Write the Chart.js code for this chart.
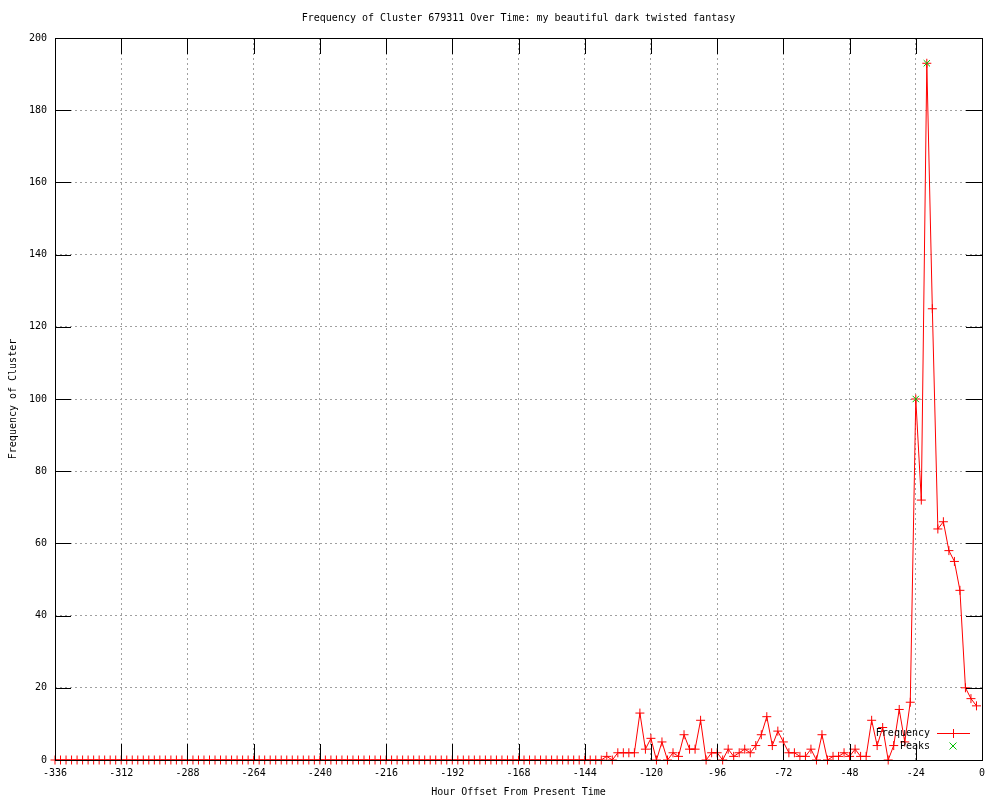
<!DOCTYPE html>
<html><head><meta charset="utf-8">
<script src="https://cdn.jsdelivr.net/npm/chart.js@4/dist/chart.umd.min.js"></script>
<style>html,body{margin:0;padding:0;background:#fff}#wrap{width:1000px;height:800px;position:relative}</style>
</head><body><div id="wrap"><canvas id="c"></canvas></div>
<script>
const hours = [
-336,-334,-332,-330,-328,-326,-324,-322,-320,-318,-316,-314,-312,-310,-308,-306,-304,-302,-300,-298,
-296,-294,-292,-290,-288,-286,-284,-282,-280,-278,-276,-274,-272,-270,-268,-266,-264,-262,-260,-258,
-256,-254,-252,-250,-248,-246,-244,-242,-240,-238,-236,-234,-232,-230,-228,-226,-224,-222,-220,-218,
-216,-214,-212,-210,-208,-206,-204,-202,-200,-198,-196,-194,-192,-190,-188,-186,-184,-182,-180,-178,
-176,-174,-172,-170,-168,-166,-164,-162,-160,-158,-156,-154,-152,-150,-148,-146,-144,-142,-140,-138,
-136,-134,-132,-130,-128,-126,-124,-122,-120,-118,-116,-114,-112,-110,-108,-106,-104,-102,-100,-98,
-96,-94,-92,-90,-88,-86,-84,-82,-80,-78,-76,-74,-72,-70,-68,-66,-64,-62,-60,-58,
-56,-54,-52,-50,-48,-46,-44,-42,-40,-38,-36,-34,-32,-30,-28,-26,-24,-22,-20,-18,
-16,-14,-12,-10,-8,-6,-4,-2
];
const frequency = [
0,0,0,0,0,0,0,0,0,0,0,0,0,0,0,0,0,0,0,0,
0,0,0,0,0,0,0,0,0,0,0,0,0,0,0,0,0,0,0,0,
0,0,0,0,0,0,0,0,0,0,0,0,0,0,0,0,0,0,0,0,
0,0,0,0,0,0,0,0,0,0,0,0,0,0,0,0,0,0,0,0,
0,0,0,0,0,0,0,0,0,0,0,0,0,0,0,0,0,0,0,0,
1,0,2,2,2,2,13,3,6,0,5,0,2,1,7,3,3,11,0,2,
2,0,3,1,2,3,2,4,7,12,4,8,5,2,2,1,1,3,0,7,
0,1,1,2,1,3,1,1,11,4,9,0,4,14,5,16,100,72,193,125,
64,66,58,55,47,20,17,15
];
const peakHours = [-24, -20];
const peakValues = [100, 193];
const xTicks = [-336,-312,-288,-264,-240,-216,-192,-168,-144,-120,-96,-72,-48,-24,0];
const yTicks = [0,20,40,60,80,100,120,140,160,180,200];
const seriesNames = ['Frequency', 'Peaks'];
const titleText = 'Frequency of Cluster 679311 Over Time: my beautiful dark twisted fantasy';
const xTitle = 'Hour Offset From Present Time';
const yTitle = 'Frequency of Cluster';

const RED = '#ff0000', GREEN = '#00c000';
Chart.defaults.font.family = "'DejaVu Sans Mono', 'Liberation Mono', monospace";
Chart.defaults.font.size = 10;
Chart.defaults.color = '#000';

const freqPts = hours.map((h, i) => ({x: h, y: frequency[i]}));
const peakPts = peakHours.map((h, i) => ({x: h, y: peakValues[i]}));

const framePlugin = {
  id: 'frame',
  afterDatasetsDraw(chart) {
    const {ctx, chartArea: a, scales: {x, y}} = chart;
    const L = 16;
    ctx.save();
    ctx.strokeStyle = '#000';
    ctx.lineWidth = 1;
    ctx.setLineDash([]);
    ctx.beginPath();
    xTicks.forEach(v => {
      const px = Math.round(x.getPixelForValue(v)) + 0.5;
      ctx.moveTo(px, a.bottom); ctx.lineTo(px, a.bottom - L);
      ctx.moveTo(px, a.top); ctx.lineTo(px, a.top + L);
    });
    yTicks.forEach(v => {
      const py = Math.round(y.getPixelForValue(v)) + 0.5;
      ctx.moveTo(a.left, py); ctx.lineTo(a.left + L, py);
      ctx.moveTo(a.right, py); ctx.lineTo(a.right - L, py);
    });
    ctx.stroke();
    ctx.strokeRect(Math.round(a.left) + 0.5, Math.round(a.top) + 0.5,
                   Math.round(a.right - a.left), Math.round(a.bottom - a.top));
    // key
    const textRight = 930, sx0 = 937, sx1 = 970, sxm = 953;
    const rows = [733, 746];
    ctx.font = "10px 'DejaVu Sans Mono', 'Liberation Mono', monospace";
    ctx.fillStyle = '#000';
    ctx.textAlign = 'right';
    ctx.textBaseline = 'middle';
    ctx.fillText(seriesNames[0], textRight, rows[0]);
    ctx.fillText(seriesNames[1], textRight, rows[1]);
    ctx.strokeStyle = RED;
    ctx.beginPath();
    ctx.moveTo(sx0, rows[0] + 0.5); ctx.lineTo(sx1, rows[0] + 0.5);
    ctx.moveTo(sxm + 0.5, rows[0] - 4); ctx.lineTo(sxm + 0.5, rows[0] + 5);
    ctx.stroke();
    ctx.strokeStyle = GREEN;
    ctx.beginPath();
    ctx.moveTo(sxm - 3.5, rows[1] - 3.5); ctx.lineTo(sxm + 3.5, rows[1] + 3.5);
    ctx.moveTo(sxm - 3.5, rows[1] + 3.5); ctx.lineTo(sxm + 3.5, rows[1] - 3.5);
    ctx.stroke();
    ctx.restore();
  }
};

new Chart(document.getElementById('c'), {
  type: 'scatter',
  data: {
    datasets: [
      {
        label: seriesNames[0], data: freqPts, showLine: true,
        borderColor: RED, backgroundColor: RED, borderWidth: 1,
        pointStyle: 'cross', pointRadius: 4.5, pointBorderWidth: 1,
        pointBorderColor: RED, pointHoverRadius: 4.5, tension: 0, clip: false, order: 2
      },
      {
        label: seriesNames[1], data: peakPts, showLine: false,
        borderColor: GREEN, backgroundColor: GREEN,
        pointStyle: 'crossRot', pointRadius: 4.5, pointBorderWidth: 1,
        pointBorderColor: GREEN, clip: false, order: 1
      }
    ]
  },
  options: {
    responsive: true, maintainAspectRatio: false, animation: false,
    events: [],
    layout: {padding: {left: 0, right: 18, top: 0, bottom: 0}},
    plugins: {
      legend: {display: false},
      tooltip: {enabled: false},
      title: {
        display: true, text: titleText, fullSize: false, color: '#000',
        font: {size: 10, weight: 'normal'}, padding: {top: 12, bottom: 14}
      }
    },
    scales: {
      x: {
        type: 'linear', min: -336, max: 0,
        afterBuildTicks: s => { s.ticks = xTicks.map(v => ({value: v})); },
        afterFit: s => { s.height = 40; },
        ticks: {padding: 7, maxRotation: 0, autoSkip: false, callback: v => String(v), color: '#000'},
        grid: {color: '#a0a0a0', lineWidth: 1, drawTicks: false},
        border: {display: false, dash: [2, 3]},
        title: {display: true, text: xTitle, color: '#000', font: {size: 10}, padding: {top: 0, bottom: 2}}
      },
      y: {
        type: 'linear', min: 0, max: 200,
        afterBuildTicks: s => { s.ticks = yTicks.map(v => ({value: v})); },
        afterFit: s => { s.width = 55; },
        ticks: {padding: 8, autoSkip: false, callback: v => String(v), color: '#000'},
        grid: {color: '#a0a0a0', lineWidth: 1, drawTicks: false},
        border: {display: false, dash: [2, 3]},
        title: {display: true, text: yTitle, color: '#000', font: {size: 10}, padding: {top: 7, bottom: 0}}
      }
    }
  },
  plugins: [framePlugin]
});
</script>
</body></html>
